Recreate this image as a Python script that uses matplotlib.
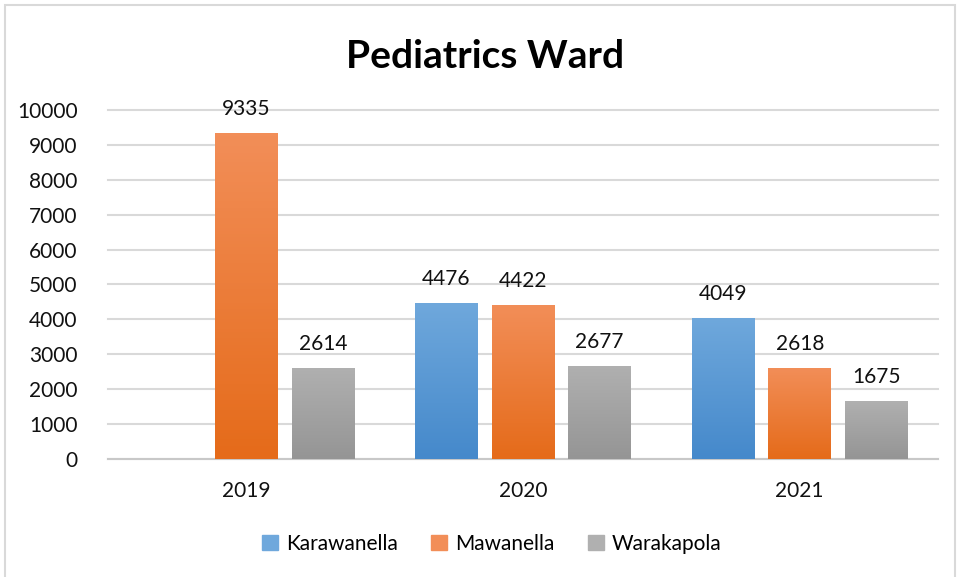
import numpy as np
import matplotlib.pyplot as plt
from matplotlib.patches import Rectangle
from matplotlib.colors import LinearSegmentedColormap

plt.rcParams['font.family'] = ['Lato', 'DejaVu Sans']

# Daten
years = ["2019", "2020", "2021"]
series = ["Karawanella", "Mawanella", "Warakapola"]
karawanella = [0, 4476, 4049]
mawanella = [9335, 4422, 2618]
warakapola = [2614, 2677, 1675]
values = [karawanella, mawanella, warakapola]
y_ticks = [0, 1000, 2000, 3000, 4000, 5000, 6000, 7000, 8000, 9000, 10000]

# gradient colours (top, bottom)
grad = [("#6fa8dc", "#4589cb"), ("#f28e58", "#e56b1a"), ("#b0b0b0", "#959595")]

fig = plt.figure(figsize=(9.61, 5.77), dpi=100)
ax = fig.add_axes([0.1124, 0.2045, 0.8637, 0.605])

# chart border
fig.patches.append(Rectangle((5 / 961, -0.01), 950 / 961, 1 - 5 / 577 + 0.01,
                             transform=fig.transFigure, fill=False,
                             edgecolor="#d9d9d9", lw=1.5))

x = np.arange(len(years))
width = 0.227
step = 0.277
fs = 15

handles = []
for i, (name, vals) in enumerate(zip(series, values)):
    top, bottom = grad[i]
    cmap = LinearSegmentedColormap.from_list(name, [bottom, top])
    pos = x + (i - 1) * step
    bars = ax.bar(pos, vals, width, color=top, zorder=3)
    handles.append(Rectangle((0, 0), 1, 1, color=top, label=name))
    for b, v in zip(bars, vals):
        if v == 0:
            b.set_visible(False)
            continue
        x0, w, h = b.get_x(), b.get_width(), b.get_height()
        img = ax.imshow(np.linspace(0, 1, 100).reshape(-1, 1), cmap=cmap,
                        origin="lower", aspect="auto",
                        extent=(x0, x0 + w, 0, h), zorder=4)
        img.set_clip_path(b)
        ax.annotate(str(v), (x0 + w / 2, h), xytext=(0, 10),
                    textcoords="offset points", ha="center", va="bottom",
                    fontsize=fs, color="#111111")

ax.set_xlim(-0.5, 2.5)
ax.set_ylim(0, 10000)
ax.set_yticks(y_ticks)
ax.set_xticks(x, years)
ax.yaxis.grid(True, color="#d9d9d9", lw=1.5, zorder=0)
ax.set_axisbelow(True)
for g in ax.get_ygridlines():
    g.set_clip_on(False)
for s in ["top", "right", "left"]:
    ax.spines[s].set_visible(False)
ax.spines["bottom"].set_color("#c8c8c8")
ax.spines["bottom"].set_linewidth(1.5)
ax.tick_params(axis="both", length=0, labelsize=fs, colors="#111111")
ax.tick_params(axis="y", pad=22)
ax.tick_params(axis="x", pad=16)

fig.text(0.505, 0.902, "Pediatrics Ward", ha="center", va="center",
         fontsize=28, fontweight="bold")

fig.legend(handles=handles, loc="center", bbox_to_anchor=(0.512, 0.058), ncol=3,
           frameon=False, fontsize=fs, handlelength=0.75, handleheight=0.75,
           handletextpad=0.4, columnspacing=1.6)

fig.savefig("out.png", dpi=100)
